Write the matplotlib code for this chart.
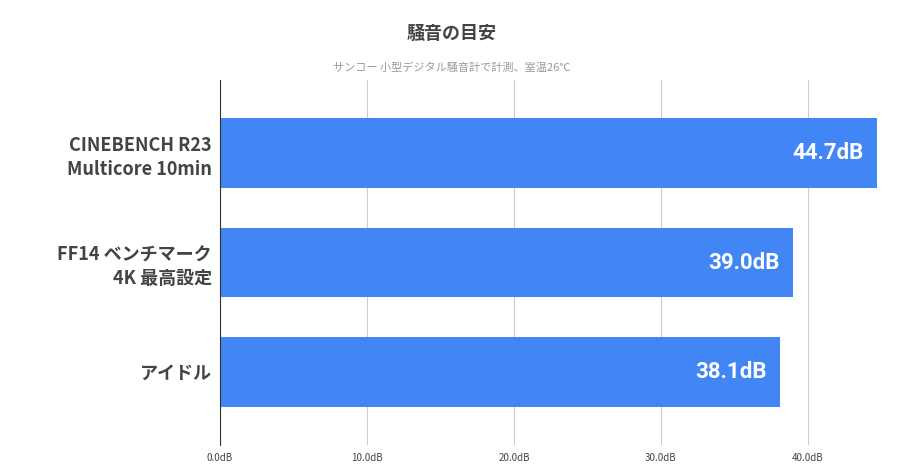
import matplotlib
matplotlib.use('Agg')
import matplotlib.pyplot as plt

plt.rcParams['font.family'] = ['Noto Sans CJK JP', 'DejaVu Sans']

categories = ['CINEBENCH R23\nMulticore 10min', 'FF14 ベンチマーク\n4K 最高設定', 'アイドル']
values = [44.7, 39.0, 38.1]
xticks = [0, 10, 20, 30, 40]
title = '騒音の目安'
subtitle = 'サンコー 小型デジタル騒音計で計測、室温26℃'

fig = plt.figure(figsize=(9.03, 4.74), dpi=100)
ax = fig.add_axes([0.2436, 0.0612, 0.7326, 0.77])

ypos = list(range(len(categories)))
ax.barh(ypos, values, height=0.64, color='#4285F4', zorder=2)
for y, v in zip(ypos, values):
    ax.text(v - 0.9, y, f'{v:.1f}dB', color='white', fontsize=16, fontweight='bold',
            ha='right', va='center', family=['Roboto', 'DejaVu Sans'])

ax.set_xlim(0, 45)
ax.set_ylim(2.67, -0.67)
ax.set_yticks(ypos)
ax.set_yticklabels(categories, fontsize=13, fontweight='bold', color='#444444',
                   linespacing=1.3)
ax.set_xticks(xticks)
ax.set_xticklabels([f'{t:.1f}dB' for t in xticks], fontsize=7, color='#444444')
ax.tick_params(length=0, pad=6)
ax.grid(axis='x', color='#cccccc', linewidth=0.8, zorder=0)
for s in ['top', 'right', 'bottom']:
    ax.spines[s].set_visible(False)
ax.spines['left'].set_color('#333333')
ax.spines['left'].set_zorder(3)

fig.text(0.5, 0.93, title, ha='center', va='center', fontsize=13, fontweight='bold', color='#444444')
fig.text(0.5, 0.857, subtitle, ha='center', va='center', fontsize=8, color='#999999')

fig.savefig('out.png', dpi=100)
